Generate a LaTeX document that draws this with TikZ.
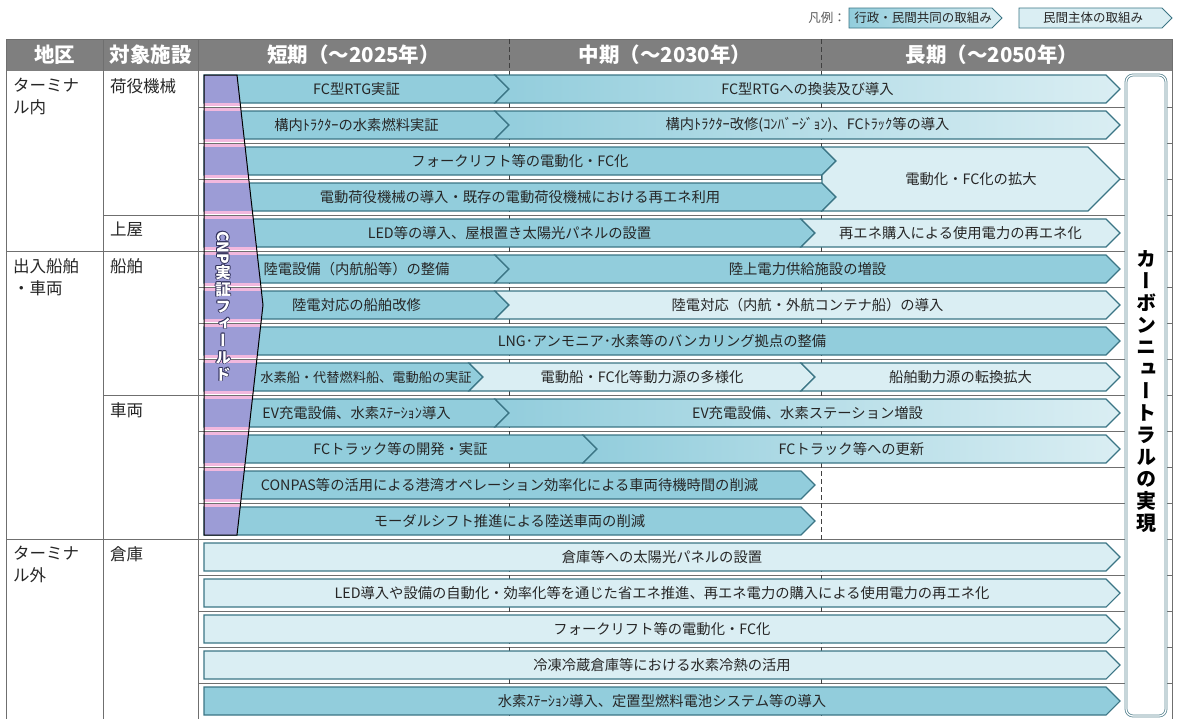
\documentclass[tikz,border=0pt]{standalone}
\usepackage{fontspec}
\setmainfont{Noto Sans CJK JP}
\newfontfamily\jpv[RawFeature=+vert]{Noto Sans CJK JP}
\usepackage{tikz}

\definecolor{hdrgray}{HTML}{7F7F7F}
\definecolor{gridgray}{HTML}{6F6F6F}
\definecolor{bardark}{HTML}{92CDDC}
\definecolor{barlight}{HTML}{DAEEF3}
\definecolor{barline}{HTML}{3B7585}
\definecolor{cnppurple}{HTML}{9C9CD6}
\definecolor{cnppink}{HTML}{F2B8DE}
\definecolor{cnpedge}{HTML}{34345E}
\definecolor{txtgray}{HTML}{262626}
\definecolor{boxedge}{HTML}{5F8A96}

% one bar of the roadmap: name, style, first row, last row, left x, tip x, notch, text
\newcommand{\plan}[8]{%
  \pgfmathsetmacro{\ptop}{71+36*(#3-1)+4}%
  \pgfmathsetmacro{\pbot}{71+36*#4-4}%
  \pgfmathsetmacro{\pmid}{(\ptop+\pbot)/2}%
  \pgfmathsetmacro{\pdep}{(\pbot-\ptop)/2}%
  \ifnum#7=1
    \draw[#2] (#5,\ptop) -- (#6-\pdep,\ptop) -- (#6,\pmid) -- (#6-\pdep,\pbot) -- (#5,\pbot) -- (#5+14,\pmid) -- cycle;
  \else
    \draw[#2] (#5,\ptop) -- (#6-\pdep,\ptop) -- (#6,\pmid) -- (#6-\pdep,\pbot) -- (#5,\pbot) -- cycle;
  \fi
  \node[bartext] (#1) at ({(#5+#6)/2},\pmid) {#8};
}
\newcommand{\cnpword}{\rotatebox{-90}{CNP}\\実\\証\\フ\\ィ\\ー\\ル\\ド}
\newcommand{\goalword}{カ\\ー\\ボ\\ン\\ニ\\ュ\\ー\\ト\\ラ\\ル\\の\\実\\現}

\begin{document}
\begin{tikzpicture}[x=1pt,y=-1pt,
  joint/.style={draw=barline, line width=1.1pt, fill=bardark},
  mixed/.style={draw=barline, line width=1.1pt, left color=bardark, middle color=bardark!80!barlight, right color=barlight},
  private/.style={draw=barline, line width=1.1pt, fill=barlight},
  bartext/.style={font=\fontsize{14.3}{16}\selectfont, text=txtgray, inner sep=0pt},
  celltext/.style={font=\fontsize{16.5}{22}\selectfont, text=txtgray, inner sep=0pt, anchor=north west, align=left},
  headtext/.style={font=\bfseries\fontsize{20.5}{22}\selectfont, text=white, inner sep=0pt},
  legtext/.style={font=\fontsize{12.5}{14}\selectfont, text=txtgray, inner sep=0pt},
  gridline/.style={draw=gridgray, line width=0.9pt},
  period/.style={draw=black!75, line width=0.9pt, dash pattern=on 5pt off 3pt},
  cnpstyle/.style={align=center, inner sep=0pt, font=\jpv\bfseries\fontsize{15.5}{17}\selectfont},
]
\useasboundingbox (0,0) rectangle (1177,718);
\fill[white] (0,0) rectangle (1177,718);

% header
\fill[hdrgray] (6,39) rectangle (1172,71);
\node[headtext] (hd1) at (54.5,55) {地区};
\node[headtext] (hd2) at (150.5,55) {対象施設};
\node[headtext] (hd3) at (353.5,55) {短期（～2025年）};
\node[headtext] (hd4) at (665,55) {中期（～2030年）};
\node[headtext] (hd5) at (992,55) {長期（～2050年）};

% table lines
\foreach \k in {1,...,17}
  \draw[gridline, line width=0.7pt] (198,71+36*\k) -- (1172,71+36*\k);
\draw[gridline] (103,215) -- (198,215) (103,395) -- (198,395);
\draw[gridline] (6,251) -- (198,251) (6,539) -- (198,539);
\draw[gridline] (6,39) -- (1172,39) (6,39) -- (6,720) (1172,39) -- (1172,720);
\draw[gridline] (103,39) -- (103,720) (198,39) -- (198,720);
\draw[period] (509,39) -- (509,720) (821,39) -- (821,720);

% left columns
\node[celltext] (area1) at (13,78) {ターミナ\\ル内};
\node[celltext] (area2) at (13,258) {出入船舶\\・車両};
\node[celltext] (area3) at (13,546) {ターミナ\\ル外};
\node[celltext] (fac1) at (110,78) {荷役機械};
\node[celltext] (fac2) at (110,222) {上屋};
\node[celltext] (fac3) at (110,258) {船舶};
\node[celltext] (fac4) at (110,402) {車両};
\node[celltext] (fac5) at (110,546) {倉庫};

% bars
\plan{fcrtg}{joint}{1}{1}{204}{509}{0}{FC型RTG実証}
\plan{fcrtgnew}{mixed}{1}{1}{495}{1120}{1}{FC型RTGへの換装及び導入}
\plan{tractor}{joint}{2}{2}{204}{509}{0}{構内ﾄﾗｸﾀｰの水素燃料実証}
\plan{tractornew}{mixed}{2}{2}{495}{1120}{1}{構内ﾄﾗｸﾀｰ改修(ｺﾝﾊﾞｰｼﾞｮﾝ)、FCﾄﾗｯｸ等の導入}
\plan{forklift}{joint}{3}{3}{204}{836}{0}{フォークリフト等の電動化・FC化}
\plan{cargo}{joint}{4}{4}{204}{836}{0}{電動荷役機械の導入・既存の電動荷役機械における再エネ利用}
\draw[private] (822,147) -- (1088,147) -- (1120,179) -- (1088,211) -- (822,211) -- (836,197)
  -- (822,183) -- (822,175) -- (836,161) -- cycle;
\node[bartext] (expand) at (971,179) {電動化・FC化の拡大};
\plan{led}{joint}{5}{5}{204}{815}{0}{LED等の導入、屋根置き太陽光パネルの設置}
\plan{renew}{private}{5}{5}{801}{1120}{1}{再エネ購入による使用電力の再エネ化}
\plan{shore}{joint}{6}{6}{204}{509}{0}{陸電設備（内航船等）の整備}
\plan{shoreadd}{joint}{6}{6}{495}{1120}{1}{陸上電力供給施設の増設}
\plan{refit}{joint}{7}{7}{204}{509}{0}{陸電対応の船舶改修}
\plan{refitadd}{private}{7}{7}{495}{1120}{1}{陸電対応（内航・外航コンテナ船）の導入}
\plan{bunker}{joint}{8}{8}{204}{1120}{0}{LNG･アンモニア･水素等のバンカリング拠点の整備}
\plan{h2bar}{joint}{9}{9}{204}{483}{0}{}
\node[bartext, font=\fontsize{13.2}{15}\selectfont] (h2ship) at (366,377) {水素船・代替燃料船、電動船の実証};
\plan{diverse}{private}{9}{9}{469}{815}{1}{電動船・FC化等動力源の多様化}
\plan{convert}{private}{9}{9}{801}{1120}{1}{船舶動力源の転換拡大}
\plan{ev}{joint}{10}{10}{204}{509}{0}{EV充電設備、水素ｽﾃｰｼｮﾝ導入}
\plan{evadd}{mixed}{10}{10}{495}{1120}{1}{EV充電設備、水素ステーション増設}
\plan{fctruck}{joint}{11}{11}{204}{597}{0}{FCトラック等の開発・実証}
\plan{fcupdate}{mixed}{11}{11}{583}{1120}{1}{FCトラック等への更新}
\plan{conpas}{joint}{12}{12}{204}{815}{0}{CONPAS等の活用による港湾オペレーション効率化による車両待機時間の削減}
\plan{modal}{joint}{13}{13}{204}{815}{0}{モーダルシフト推進による陸送車両の削減}
\plan{solar}{private}{14}{14}{204}{1120}{0}{倉庫等への太陽光パネルの設置}
\plan{saving}{private}{15}{15}{204}{1120}{0}{LED導入や設備の自動化・効率化等を通じた省エネ推進、再エネ電力の購入による使用電力の再エネ化}
\plan{wforklift}{private}{16}{16}{204}{1120}{0}{フォークリフト等の電動化・FC化}
\plan{cold}{private}{17}{17}{204}{1120}{0}{冷凍冷蔵倉庫等における水素冷熱の活用}
\plan{station}{joint}{18}{18}{204}{1120}{0}{水素ｽﾃｰｼｮﾝ導入、定置型燃料電池システム等の導入}

% CNP field
\fill[cnppurple] (204,75) -- (237,75) -- (263,305) -- (237,535) -- (204,535) -- cycle;
\begin{scope}
  \clip (204,75) -- (237,75) -- (263,305) -- (237,535) -- (204,535) -- cycle;
  \foreach \k in {1,...,12} {
    \fill[cnppink] (200,71+36*\k-4) rectangle (270,71+36*\k+4);
    \draw[white, line width=2.4pt] (200,71+36*\k) -- (270,71+36*\k);
    \draw[gridgray, line width=0.7pt] (200,71+36*\k) -- (270,71+36*\k);
  }
\end{scope}
\draw[black, line width=1pt] (204,75) -- (237,75) -- (263,305) -- (237,535) -- (204,535) -- cycle;
\foreach \dx/\dy [count=\i] in {-0.8/0,0.8/0,0/-0.8,0/0.8,-0.6/-0.6,0.6/0.6,-0.6/0.6,0.6/-0.6}
  \node[cnpstyle, text=cnpedge] (cnpedge\i) at (223+\dx,306+\dy) {\cnpword};
\node[cnpstyle, text=white] (cnp) at (223,306) {\cnpword};

% goal
\draw[draw=boxedge, line width=0.8pt, double=white, double distance=1.2pt, rounded corners=7pt, fill=white]
  (1126,75) rectangle (1166,716);
\node[cnpstyle, font=\jpv\bfseries\fontsize{20}{22}\selectfont, text=black] (goal) at (1146,392) {\goalword};

% legend
\node[legtext, text=black!65, anchor=east] (legend) at (846,18) {凡例：};
\draw[mixed, line width=0.9pt] (849,8) -- (992,8) -- (1002,18) -- (992,28) -- (849,28) -- cycle;
\node[legtext] (legjoint) at (923,18) {行政・民間共同の取組み};
\draw[private, line width=0.9pt] (1019,8) -- (1162,8) -- (1172,18) -- (1162,28) -- (1019,28) -- cycle;
\node[legtext] (legprivate) at (1093,18) {民間主体の取組み};
\end{tikzpicture}
\end{document}
